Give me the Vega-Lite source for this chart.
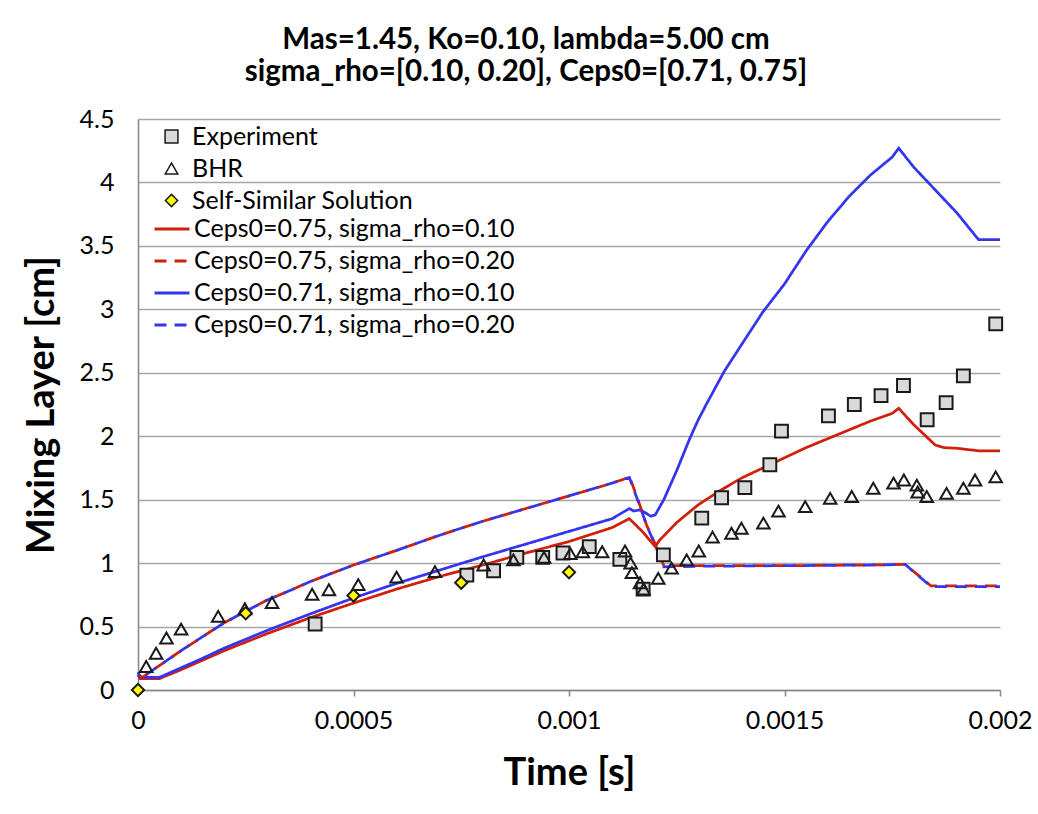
{
  "$schema": "https://vega.github.io/schema/vega-lite/v6.json",
  "width": 862,
  "height": 571,
  "autosize": {"type": "none"},
  "padding": {"left": 138, "top": 119, "right": 38, "bottom": 124},
  "background": "white",
  "config": {"font": "Lato", "view": {"stroke": null}},
  "title": {
    "text": ["Mas=1.45, Ko=0.10, lambda=5.00 cm", "sigma_rho=[0.10, 0.20], Ceps0=[0.71, 0.75]"],
    "fontSize": 29.5,
    "fontWeight": "bold",
    "font": "Lato",
    "color": "black",
    "anchor": "middle",
    "dx": -43,
    "offset": 20,
    "lineHeight": 32
  },
  "datasets": {
    "lines": [
      {"model": "Ceps0=0.75, sigma_rho=0.10", "t": 0, "y": 0.12},
      {"model": "Ceps0=0.75, sigma_rho=0.10", "t": 0.000005, "y": 0.09},
      {"model": "Ceps0=0.75, sigma_rho=0.10", "t": 0.00005, "y": 0.09},
      {"model": "Ceps0=0.75, sigma_rho=0.10", "t": 0.0001, "y": 0.16},
      {"model": "Ceps0=0.75, sigma_rho=0.10", "t": 0.00015, "y": 0.235},
      {"model": "Ceps0=0.75, sigma_rho=0.10", "t": 0.0002, "y": 0.31},
      {"model": "Ceps0=0.75, sigma_rho=0.10", "t": 0.0003, "y": 0.445},
      {"model": "Ceps0=0.75, sigma_rho=0.10", "t": 0.0004, "y": 0.57},
      {"model": "Ceps0=0.75, sigma_rho=0.10", "t": 0.0005, "y": 0.685},
      {"model": "Ceps0=0.75, sigma_rho=0.10", "t": 0.0006, "y": 0.795},
      {"model": "Ceps0=0.75, sigma_rho=0.10", "t": 0.0007, "y": 0.895},
      {"model": "Ceps0=0.75, sigma_rho=0.10", "t": 0.0008, "y": 0.985},
      {"model": "Ceps0=0.75, sigma_rho=0.10", "t": 0.0009, "y": 1.08},
      {"model": "Ceps0=0.75, sigma_rho=0.10", "t": 0.001, "y": 1.17},
      {"model": "Ceps0=0.75, sigma_rho=0.10", "t": 0.0011, "y": 1.28},
      {"model": "Ceps0=0.75, sigma_rho=0.10", "t": 0.00114, "y": 1.35},
      {"model": "Ceps0=0.75, sigma_rho=0.10", "t": 0.00117, "y": 1.25},
      {"model": "Ceps0=0.75, sigma_rho=0.10", "t": 0.0012, "y": 1.13},
      {"model": "Ceps0=0.75, sigma_rho=0.10", "t": 0.00121, "y": 1.18},
      {"model": "Ceps0=0.75, sigma_rho=0.10", "t": 0.00125, "y": 1.32},
      {"model": "Ceps0=0.75, sigma_rho=0.10", "t": 0.0013, "y": 1.46},
      {"model": "Ceps0=0.75, sigma_rho=0.10", "t": 0.00135, "y": 1.57},
      {"model": "Ceps0=0.75, sigma_rho=0.10", "t": 0.0014, "y": 1.67},
      {"model": "Ceps0=0.75, sigma_rho=0.10", "t": 0.00145, "y": 1.75},
      {"model": "Ceps0=0.75, sigma_rho=0.10", "t": 0.0015, "y": 1.83},
      {"model": "Ceps0=0.75, sigma_rho=0.10", "t": 0.00155, "y": 1.91},
      {"model": "Ceps0=0.75, sigma_rho=0.10", "t": 0.0016, "y": 1.98},
      {"model": "Ceps0=0.75, sigma_rho=0.10", "t": 0.00165, "y": 2.05},
      {"model": "Ceps0=0.75, sigma_rho=0.10", "t": 0.0017, "y": 2.12},
      {"model": "Ceps0=0.75, sigma_rho=0.10", "t": 0.00175, "y": 2.18},
      {"model": "Ceps0=0.75, sigma_rho=0.10", "t": 0.001765, "y": 2.22},
      {"model": "Ceps0=0.75, sigma_rho=0.10", "t": 0.0018, "y": 2.09},
      {"model": "Ceps0=0.75, sigma_rho=0.10", "t": 0.00185, "y": 1.93},
      {"model": "Ceps0=0.75, sigma_rho=0.10", "t": 0.00187, "y": 1.91},
      {"model": "Ceps0=0.75, sigma_rho=0.10", "t": 0.0019, "y": 1.905},
      {"model": "Ceps0=0.75, sigma_rho=0.10", "t": 0.00195, "y": 1.885},
      {"model": "Ceps0=0.75, sigma_rho=0.10", "t": 0.002, "y": 1.885},

      {"model": "Ceps0=0.71, sigma_rho=0.10", "t": 0, "y": 0.14},
      {"model": "Ceps0=0.71, sigma_rho=0.10", "t": 0.000005, "y": 0.10},
      {"model": "Ceps0=0.71, sigma_rho=0.10", "t": 0.00005, "y": 0.10},
      {"model": "Ceps0=0.71, sigma_rho=0.10", "t": 0.0001, "y": 0.175},
      {"model": "Ceps0=0.71, sigma_rho=0.10", "t": 0.00015, "y": 0.25},
      {"model": "Ceps0=0.71, sigma_rho=0.10", "t": 0.0002, "y": 0.33},
      {"model": "Ceps0=0.71, sigma_rho=0.10", "t": 0.0003, "y": 0.47},
      {"model": "Ceps0=0.71, sigma_rho=0.10", "t": 0.0004, "y": 0.60},
      {"model": "Ceps0=0.71, sigma_rho=0.10", "t": 0.0005, "y": 0.725},
      {"model": "Ceps0=0.71, sigma_rho=0.10", "t": 0.0006, "y": 0.84},
      {"model": "Ceps0=0.71, sigma_rho=0.10", "t": 0.0007, "y": 0.945},
      {"model": "Ceps0=0.71, sigma_rho=0.10", "t": 0.0008, "y": 1.05},
      {"model": "Ceps0=0.71, sigma_rho=0.10", "t": 0.0009, "y": 1.15},
      {"model": "Ceps0=0.71, sigma_rho=0.10", "t": 0.001, "y": 1.25},
      {"model": "Ceps0=0.71, sigma_rho=0.10", "t": 0.0011, "y": 1.35},
      {"model": "Ceps0=0.71, sigma_rho=0.10", "t": 0.00114, "y": 1.43},
      {"model": "Ceps0=0.71, sigma_rho=0.10", "t": 0.00115, "y": 1.41},
      {"model": "Ceps0=0.71, sigma_rho=0.10", "t": 0.001165, "y": 1.42},
      {"model": "Ceps0=0.71, sigma_rho=0.10", "t": 0.00119, "y": 1.37},
      {"model": "Ceps0=0.71, sigma_rho=0.10", "t": 0.0012, "y": 1.38},
      {"model": "Ceps0=0.71, sigma_rho=0.10", "t": 0.00122, "y": 1.50},
      {"model": "Ceps0=0.71, sigma_rho=0.10", "t": 0.00125, "y": 1.73},
      {"model": "Ceps0=0.71, sigma_rho=0.10", "t": 0.00128, "y": 1.98},
      {"model": "Ceps0=0.71, sigma_rho=0.10", "t": 0.0013, "y": 2.13},
      {"model": "Ceps0=0.71, sigma_rho=0.10", "t": 0.00132, "y": 2.26},
      {"model": "Ceps0=0.71, sigma_rho=0.10", "t": 0.00136, "y": 2.51},
      {"model": "Ceps0=0.71, sigma_rho=0.10", "t": 0.0014, "y": 2.72},
      {"model": "Ceps0=0.71, sigma_rho=0.10", "t": 0.00145, "y": 2.98},
      {"model": "Ceps0=0.71, sigma_rho=0.10", "t": 0.0015, "y": 3.20},
      {"model": "Ceps0=0.71, sigma_rho=0.10", "t": 0.00155, "y": 3.46},
      {"model": "Ceps0=0.71, sigma_rho=0.10", "t": 0.0016, "y": 3.69},
      {"model": "Ceps0=0.71, sigma_rho=0.10", "t": 0.00165, "y": 3.89},
      {"model": "Ceps0=0.71, sigma_rho=0.10", "t": 0.0017, "y": 4.06},
      {"model": "Ceps0=0.71, sigma_rho=0.10", "t": 0.00175, "y": 4.20},
      {"model": "Ceps0=0.71, sigma_rho=0.10", "t": 0.001765, "y": 4.27},
      {"model": "Ceps0=0.71, sigma_rho=0.10", "t": 0.0018, "y": 4.12},
      {"model": "Ceps0=0.71, sigma_rho=0.10", "t": 0.00185, "y": 3.94},
      {"model": "Ceps0=0.71, sigma_rho=0.10", "t": 0.0019, "y": 3.76},
      {"model": "Ceps0=0.71, sigma_rho=0.10", "t": 0.00195, "y": 3.55},
      {"model": "Ceps0=0.71, sigma_rho=0.10", "t": 0.002, "y": 3.55},

      {"model": "Ceps0=0.75, sigma_rho=0.20", "t": 0, "y": 0.12},
      {"model": "Ceps0=0.75, sigma_rho=0.20", "t": 0.00001, "y": 0.10},
      {"model": "Ceps0=0.75, sigma_rho=0.20", "t": 0.00004, "y": 0.17},
      {"model": "Ceps0=0.75, sigma_rho=0.20", "t": 0.0001, "y": 0.31},
      {"model": "Ceps0=0.75, sigma_rho=0.20", "t": 0.00015, "y": 0.42},
      {"model": "Ceps0=0.75, sigma_rho=0.20", "t": 0.0002, "y": 0.53},
      {"model": "Ceps0=0.75, sigma_rho=0.20", "t": 0.00025, "y": 0.62},
      {"model": "Ceps0=0.75, sigma_rho=0.20", "t": 0.0003, "y": 0.71},
      {"model": "Ceps0=0.75, sigma_rho=0.20", "t": 0.00035, "y": 0.78},
      {"model": "Ceps0=0.75, sigma_rho=0.20", "t": 0.0004, "y": 0.855},
      {"model": "Ceps0=0.75, sigma_rho=0.20", "t": 0.00045, "y": 0.92},
      {"model": "Ceps0=0.75, sigma_rho=0.20", "t": 0.0005, "y": 0.985},
      {"model": "Ceps0=0.75, sigma_rho=0.20", "t": 0.0006, "y": 1.10},
      {"model": "Ceps0=0.75, sigma_rho=0.20", "t": 0.0007, "y": 1.22},
      {"model": "Ceps0=0.75, sigma_rho=0.20", "t": 0.0008, "y": 1.33},
      {"model": "Ceps0=0.75, sigma_rho=0.20", "t": 0.0009, "y": 1.43},
      {"model": "Ceps0=0.75, sigma_rho=0.20", "t": 0.001, "y": 1.53},
      {"model": "Ceps0=0.75, sigma_rho=0.20", "t": 0.0011, "y": 1.63},
      {"model": "Ceps0=0.75, sigma_rho=0.20", "t": 0.00113, "y": 1.665},
      {"model": "Ceps0=0.75, sigma_rho=0.20", "t": 0.00114, "y": 1.685},
      {"model": "Ceps0=0.75, sigma_rho=0.20", "t": 0.00116, "y": 1.50},
      {"model": "Ceps0=0.75, sigma_rho=0.20", "t": 0.00118, "y": 1.30},
      {"model": "Ceps0=0.75, sigma_rho=0.20", "t": 0.0012, "y": 1.15},
      {"model": "Ceps0=0.75, sigma_rho=0.20", "t": 0.00122, "y": 0.98},
      {"model": "Ceps0=0.75, sigma_rho=0.20", "t": 0.0013, "y": 0.98},
      {"model": "Ceps0=0.75, sigma_rho=0.20", "t": 0.0015, "y": 0.98},
      {"model": "Ceps0=0.75, sigma_rho=0.20", "t": 0.0017, "y": 0.985},
      {"model": "Ceps0=0.75, sigma_rho=0.20", "t": 0.00178, "y": 0.99},
      {"model": "Ceps0=0.75, sigma_rho=0.20", "t": 0.00184, "y": 0.82},
      {"model": "Ceps0=0.75, sigma_rho=0.20", "t": 0.002, "y": 0.82},

      {"model": "Ceps0=0.71, sigma_rho=0.20", "t": 0, "y": 0.12},
      {"model": "Ceps0=0.71, sigma_rho=0.20", "t": 0.00001, "y": 0.10},
      {"model": "Ceps0=0.71, sigma_rho=0.20", "t": 0.00004, "y": 0.17},
      {"model": "Ceps0=0.71, sigma_rho=0.20", "t": 0.0001, "y": 0.31},
      {"model": "Ceps0=0.71, sigma_rho=0.20", "t": 0.00015, "y": 0.42},
      {"model": "Ceps0=0.71, sigma_rho=0.20", "t": 0.0002, "y": 0.53},
      {"model": "Ceps0=0.71, sigma_rho=0.20", "t": 0.00025, "y": 0.62},
      {"model": "Ceps0=0.71, sigma_rho=0.20", "t": 0.0003, "y": 0.71},
      {"model": "Ceps0=0.71, sigma_rho=0.20", "t": 0.00035, "y": 0.78},
      {"model": "Ceps0=0.71, sigma_rho=0.20", "t": 0.0004, "y": 0.855},
      {"model": "Ceps0=0.71, sigma_rho=0.20", "t": 0.00045, "y": 0.92},
      {"model": "Ceps0=0.71, sigma_rho=0.20", "t": 0.0005, "y": 0.985},
      {"model": "Ceps0=0.71, sigma_rho=0.20", "t": 0.0006, "y": 1.10},
      {"model": "Ceps0=0.71, sigma_rho=0.20", "t": 0.0007, "y": 1.22},
      {"model": "Ceps0=0.71, sigma_rho=0.20", "t": 0.0008, "y": 1.33},
      {"model": "Ceps0=0.71, sigma_rho=0.20", "t": 0.0009, "y": 1.43},
      {"model": "Ceps0=0.71, sigma_rho=0.20", "t": 0.001, "y": 1.53},
      {"model": "Ceps0=0.71, sigma_rho=0.20", "t": 0.0011, "y": 1.63},
      {"model": "Ceps0=0.71, sigma_rho=0.20", "t": 0.00113, "y": 1.665},
      {"model": "Ceps0=0.71, sigma_rho=0.20", "t": 0.00114, "y": 1.675},
      {"model": "Ceps0=0.71, sigma_rho=0.20", "t": 0.00116, "y": 1.49},
      {"model": "Ceps0=0.71, sigma_rho=0.20", "t": 0.00118, "y": 1.30},
      {"model": "Ceps0=0.71, sigma_rho=0.20", "t": 0.0012, "y": 1.14},
      {"model": "Ceps0=0.71, sigma_rho=0.20", "t": 0.00122, "y": 0.97},
      {"model": "Ceps0=0.71, sigma_rho=0.20", "t": 0.0013, "y": 0.975},
      {"model": "Ceps0=0.71, sigma_rho=0.20", "t": 0.0015, "y": 0.98},
      {"model": "Ceps0=0.71, sigma_rho=0.20", "t": 0.0017, "y": 0.985},
      {"model": "Ceps0=0.71, sigma_rho=0.20", "t": 0.00178, "y": 0.99},
      {"model": "Ceps0=0.71, sigma_rho=0.20", "t": 0.00184, "y": 0.815},
      {"model": "Ceps0=0.71, sigma_rho=0.20", "t": 0.002, "y": 0.815}
    ],
    "points": [
      {"marker": "Experiment", "t": 0.000411, "y": 0.52},
      {"marker": "Experiment", "t": 0.000763, "y": 0.905},
      {"marker": "Experiment", "t": 0.000825, "y": 0.94},
      {"marker": "Experiment", "t": 0.000879, "y": 1.045},
      {"marker": "Experiment", "t": 0.000939, "y": 1.045},
      {"marker": "Experiment", "t": 0.000986, "y": 1.08},
      {"marker": "Experiment", "t": 0.001047, "y": 1.13},
      {"marker": "Experiment", "t": 0.001118, "y": 1.03},
      {"marker": "Experiment", "t": 0.001172, "y": 0.795},
      {"marker": "Experiment", "t": 0.001219, "y": 1.065},
      {"marker": "Experiment", "t": 0.001308, "y": 1.355},
      {"marker": "Experiment", "t": 0.001354, "y": 1.515},
      {"marker": "Experiment", "t": 0.001408, "y": 1.595},
      {"marker": "Experiment", "t": 0.001466, "y": 1.775},
      {"marker": "Experiment", "t": 0.001493, "y": 2.04},
      {"marker": "Experiment", "t": 0.001602, "y": 2.16},
      {"marker": "Experiment", "t": 0.001662, "y": 2.25},
      {"marker": "Experiment", "t": 0.001724, "y": 2.32},
      {"marker": "Experiment", "t": 0.001776, "y": 2.40},
      {"marker": "Experiment", "t": 0.001831, "y": 2.13},
      {"marker": "Experiment", "t": 0.001875, "y": 2.265},
      {"marker": "Experiment", "t": 0.001915, "y": 2.475},
      {"marker": "Experiment", "t": 0.00199, "y": 2.885},

      {"marker": "BHR", "t": 0.000019, "y": 0.185},
      {"marker": "BHR", "t": 0.000042, "y": 0.29},
      {"marker": "BHR", "t": 0.000066, "y": 0.41},
      {"marker": "BHR", "t": 0.0001, "y": 0.48},
      {"marker": "BHR", "t": 0.000186, "y": 0.58},
      {"marker": "BHR", "t": 0.000248, "y": 0.64},
      {"marker": "BHR", "t": 0.000311, "y": 0.69},
      {"marker": "BHR", "t": 0.000404, "y": 0.755},
      {"marker": "BHR", "t": 0.000443, "y": 0.79},
      {"marker": "BHR", "t": 0.000511, "y": 0.83},
      {"marker": "BHR", "t": 0.0006, "y": 0.89},
      {"marker": "BHR", "t": 0.000689, "y": 0.933},
      {"marker": "BHR", "t": 0.000802, "y": 0.985},
      {"marker": "BHR", "t": 0.000871, "y": 1.025},
      {"marker": "BHR", "t": 0.000942, "y": 1.045},
      {"marker": "BHR", "t": 0.001003, "y": 1.075},
      {"marker": "BHR", "t": 0.001032, "y": 1.09},
      {"marker": "BHR", "t": 0.001077, "y": 1.09},
      {"marker": "BHR", "t": 0.00113, "y": 1.095},
      {"marker": "BHR", "t": 0.001143, "y": 1.0},
      {"marker": "BHR", "t": 0.001146, "y": 0.925},
      {"marker": "BHR", "t": 0.001165, "y": 0.845},
      {"marker": "BHR", "t": 0.001173, "y": 0.795},
      {"marker": "BHR", "t": 0.001207, "y": 0.88},
      {"marker": "BHR", "t": 0.001238, "y": 0.96},
      {"marker": "BHR", "t": 0.001273, "y": 1.025},
      {"marker": "BHR", "t": 0.001301, "y": 1.095},
      {"marker": "BHR", "t": 0.001333, "y": 1.205},
      {"marker": "BHR", "t": 0.001377, "y": 1.235},
      {"marker": "BHR", "t": 0.0014, "y": 1.275},
      {"marker": "BHR", "t": 0.001451, "y": 1.315},
      {"marker": "BHR", "t": 0.001486, "y": 1.41},
      {"marker": "BHR", "t": 0.001548, "y": 1.445},
      {"marker": "BHR", "t": 0.001606, "y": 1.51},
      {"marker": "BHR", "t": 0.001656, "y": 1.525},
      {"marker": "BHR", "t": 0.001706, "y": 1.59},
      {"marker": "BHR", "t": 0.001753, "y": 1.63},
      {"marker": "BHR", "t": 0.001777, "y": 1.655},
      {"marker": "BHR", "t": 0.001807, "y": 1.615},
      {"marker": "BHR", "t": 0.001809, "y": 1.56},
      {"marker": "BHR", "t": 0.00183, "y": 1.525},
      {"marker": "BHR", "t": 0.001876, "y": 1.55},
      {"marker": "BHR", "t": 0.001915, "y": 1.59},
      {"marker": "BHR", "t": 0.001942, "y": 1.655},
      {"marker": "BHR", "t": 0.00199, "y": 1.68},

      {"marker": "Self-Similar Solution", "t": 0, "y": 0},
      {"marker": "Self-Similar Solution", "t": 0.00025, "y": 0.605},
      {"marker": "Self-Similar Solution", "t": 0.0005, "y": 0.745},
      {"marker": "Self-Similar Solution", "t": 0.00075, "y": 0.846},
      {"marker": "Self-Similar Solution", "t": 0.001, "y": 0.928}
    ]
  },
  "encoding": {
    "x": {
      "field": "t",
      "type": "quantitative",
      "scale": {"domain": [0, 0.002], "nice": false},
      "axis": {
        "title": "Time [s]",
        "values": [0, 0.0005, 0.001, 0.0015, 0.002],
        "labelExpr": "'' + datum.value",
        "grid": false,
        "domainColor": "#868686",
        "domainWidth": 1.5,
        "tickColor": "#868686",
        "tickWidth": 1.5,
        "tickSize": 6,
        "labelFontSize": 25,
        "labelColor": "black",
        "labelPadding": 12,
        "labelFlush": false,
        "titleFontSize": 38,
        "titleFontWeight": "bold",
        "titleColor": "black",
        "titlePadding": 21
      }
    },
    "y": {
      "field": "y",
      "type": "quantitative",
      "scale": {"domain": [0, 4.5], "nice": false},
      "axis": {
        "title": "Mixing Layer [cm]",
        "values": [0, 0.5, 1, 1.5, 2, 2.5, 3, 3.5, 4, 4.5],
        "labelExpr": "'' + datum.value",
        "grid": true,
        "gridColor": "#a6a6a6",
        "gridWidth": 1.5,
        "domainColor": "#868686",
        "domainWidth": 1.5,
        "ticks": false,
        "labelFontSize": 25,
        "labelColor": "black",
        "labelPadding": 24,
        "labelFlush": false,
        "titleFontSize": 38,
        "titleFontWeight": "bold",
        "titleColor": "black",
        "titlePadding": 18
      }
    }
  },
  "layer": [
    {
      "data": {"name": "lines"},
      "transform": [{"filter": "datum.model != 'Ceps0=0.71, sigma_rho=0.20'"}],
      "mark": {"type": "line", "strokeWidth": 2.75},
      "encoding": {
        "color": {
          "field": "model",
          "type": "nominal",
          "scale": {
            "domain": ["Ceps0=0.75, sigma_rho=0.10", "Ceps0=0.75, sigma_rho=0.20", "Ceps0=0.71, sigma_rho=0.10", "Ceps0=0.71, sigma_rho=0.20"],
            "range": ["#d0200a", "#d0200a", "#3535ee", "#3535ee"]
          },
          "legend": {
            "orient": "none", "legendX": 15, "legendY": 91, "title": null,
            "symbolType": "stroke", "symbolSize": 1225, "symbolStrokeWidth": 3,
            "labelFontSize": 25, "labelColor": "black", "labelOffset": 3, "labelLimit": 500,
            "rowPadding": -14, "padding": 0
          }
        },
        "strokeDash": {
          "field": "model",
          "type": "nominal",
          "scale": {
            "domain": ["Ceps0=0.75, sigma_rho=0.10", "Ceps0=0.75, sigma_rho=0.20", "Ceps0=0.71, sigma_rho=0.10", "Ceps0=0.71, sigma_rho=0.20"],
            "range": [[1, 0], [12, 8], [1, 0], [12, 8]]
          },
          "legend": {
            "orient": "none", "legendX": 15, "legendY": 91, "title": null,
            "symbolType": "stroke", "symbolSize": 1225, "symbolStrokeWidth": 3,
            "labelFontSize": 25, "labelColor": "black", "labelOffset": 3, "labelLimit": 500,
            "rowPadding": -14, "padding": 0
          }
        }
      }
    },
    {
      "data": {"name": "lines"},
      "transform": [{"filter": "datum.model == 'Ceps0=0.71, sigma_rho=0.20'"}],
      "mark": {"type": "line", "strokeWidth": 2.75, "strokeDashOffset": 10},
      "encoding": {
        "color": {"field": "model", "type": "nominal"},
        "strokeDash": {"field": "model", "type": "nominal"}
      }
    },
    {
      "data": {"name": "points"},
      "mark": {"type": "point", "filled": true, "stroke": "#1a1a1a", "strokeWidth": 2, "opacity": 1},
      "encoding": {
        "shape": {
          "field": "marker",
          "type": "nominal",
          "scale": {"domain": ["Experiment", "BHR", "Self-Similar Solution"], "range": ["square", "triangle-up", "diamond"]},
          "legend": {
            "orient": "none", "legendX": 21, "legendY": 5, "title": null,
            "labelFontSize": 25, "labelColor": "black", "labelOffset": 8, "labelLimit": 500,
            "rowPadding": 6, "padding": 0,
            "encode": {"symbols": {"update": {"stroke": {"value": "#1a1a1a"}, "strokeWidth": {"value": 1.5}, "size": {"value": 115}}}}
          }
        },
        "fill": {
          "field": "marker",
          "type": "nominal",
          "scale": {"domain": ["Experiment", "BHR", "Self-Similar Solution"], "range": ["#d9d9d9", "transparent", "#ffff00"]},
          "legend": {
            "orient": "none", "legendX": 21, "legendY": 5, "title": null,
            "labelFontSize": 25, "labelColor": "black", "labelOffset": 8, "labelLimit": 500,
            "rowPadding": 6, "padding": 0,
            "encode": {"symbols": {"update": {"stroke": {"value": "#1a1a1a"}, "strokeWidth": {"value": 1.5}, "size": {"value": 115}}}}
          }
        },
        "size": {
          "field": "marker",
          "type": "nominal",
          "scale": {"domain": ["Experiment", "BHR", "Self-Similar Solution"], "range": [165, 150, 110]},
          "legend": {
            "orient": "none", "legendX": 21, "legendY": 5, "title": null,
            "labelFontSize": 25, "labelColor": "black", "labelOffset": 8, "labelLimit": 500,
            "rowPadding": 6, "padding": 0,
            "encode": {"symbols": {"update": {"stroke": {"value": "#1a1a1a"}, "strokeWidth": {"value": 1.5}, "size": {"value": 115}}}}
          }
        }
      }
    }
  ]
}
